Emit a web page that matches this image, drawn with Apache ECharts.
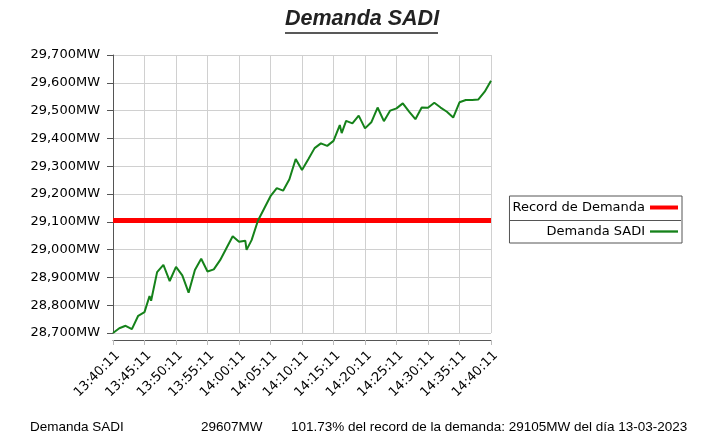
<!DOCTYPE html>
<html>
<head>
<meta charset="utf-8">
<title>Demanda SADI</title>
<script src="https://cdn.jsdelivr.net/npm/echarts@6/dist/echarts.min.js"></script>
<style>
    html, body { margin: 0; padding: 0; background: #fff; }
    #chart { width: 705px; height: 439px; }
</style>
</head>
<body>
<div id="chart"></div>
<script>
// minutos desde las 13:40:11
var sampleMinutes = [0, 1, 2, 3, 4, 5, 5.8, 6.05, 7, 8, 9, 10, 11, 12, 13, 14, 15, 16, 17, 18,
    19, 20, 21, 21.2, 22, 23, 24, 25, 26, 27, 28, 29, 30, 31, 32, 33, 34, 35, 36, 36.3,
    37, 38, 39, 40, 41, 42, 43, 44, 45, 46, 47, 48, 49, 50, 51, 52, 53, 54, 55, 56,
    57, 58, 59, 60];
var demandValues = [28700, 28717, 28726, 28714, 28762, 28775, 28833, 28816, 28919, 28945, 28887, 28938, 28907, 28845, 28927, 28967, 28921, 28929, 28962, 29005,
    29048, 29028, 29032, 28999, 29034, 29104, 29148, 29192, 29221, 29212, 29253, 29326, 29286, 29325, 29365, 29382, 29373, 29391, 29448, 29419,
    29463, 29454, 29482, 29436, 29458, 29511, 29462, 29500, 29508, 29526, 29496, 29469, 29511, 29510, 29528, 29511, 29496, 29475, 29530, 29538,
    29538, 29540, 29568, 29607];
var recordValue = 29105;
var xTickLabels = ["13:40:11", "13:45:11", "13:50:11", "13:55:11", "14:00:11", "14:05:11", "14:10:11",
    "14:15:11", "14:20:11", "14:25:11", "14:30:11", "14:35:11", "14:40:11"];
var footerTexts = ["Demanda SADI", "29607MW", "101.73% del record de la demanda: 29105MW del día 13-03-2023"];

var axisFont = "DejaVu Sans";
var plainFont = "Liberation Sans";

var myChart = echarts.init(document.getElementById("chart"));

var demandData = sampleMinutes.map(function (m, i) { return [m, demandValues[i]]; });
var recordData = [[sampleMinutes[0], recordValue], [sampleMinutes[sampleMinutes.length - 1], recordValue]];

myChart.setOption({
    animation: false,
    backgroundColor: "#fff",
    title: {
        text: "Demanda SADI",
        left: 285,
        top: 8,
        padding: 0,
        textStyle: {
            fontFamily: plainFont,
            fontSize: 21.5,
            fontWeight: "bold",
            fontStyle: "italic",
            color: "#222"
        }
    },
    legend: {
        orient: "vertical",
        right: 23,
        top: 196,
        align: "right",
        padding: [5, 4, 5, 3],
        itemGap: 11,
        itemWidth: 28,
        itemHeight: 14,
        borderColor: "#555",
        borderWidth: 1,
        borderRadius: 0,
        data: [
            { name: "Record de Demanda", icon: "path://M0,0L28,0L28,4L0,4Z" },
            { name: "Demanda SADI", icon: "path://M0,0L24,0L24,2L0,2Z" }
        ],
        textStyle: {
            fontFamily: axisFont,
            fontSize: 13,
            color: "#000",
            width: 131,
            align: "right"
        }
    },
    grid: {
        left: 113,
        right: 214,
        top: 55,
        bottom: 106,
        containLabel: false
    },
    xAxis: {
        type: "value",
        min: 0,
        max: 60,
        interval: 5,
        offset: 7,
        axisLine: { lineStyle: { color: "#555", width: 1 } },
        axisTick: { show: true, length: 5, lineStyle: { color: "#bbb" } },
        splitLine: { show: true, lineStyle: { color: "#d0d0d0", width: 1 } },
        axisLabel: {
            rotate: 45,
            margin: 9,
            verticalAlign: "top",
            fontFamily: axisFont,
            fontSize: 13,
            color: "#000",
            formatter: function (v) { return xTickLabels[Math.round(v / 5)] || ""; }
        }
    },
    yAxis: {
        type: "value",
        min: 28700,
        max: 29700,
        interval: 100,
        offset: 6,
        axisLine: { show: true, lineStyle: { color: "#555", width: 1 } },
        axisTick: { show: true, length: 6, lineStyle: { color: "#555" } },
        splitLine: { show: true, lineStyle: { color: "#d0d0d0", width: 1 } },
        axisLabel: {
            margin: 7,
            fontFamily: axisFont,
            fontSize: 13,
            color: "#000",
            formatter: function (v) { return v.toLocaleString("en-US") + "MW"; }
        }
    },
    series: [
        {
            name: "Record de Demanda",
            type: "line",
            data: recordData,
            symbol: "none",
            color: "#f00",
            lineStyle: { color: "#f00", width: 5 },
            z: 2
        },
        {
            name: "Demanda SADI",
            type: "line",
            data: demandData,
            symbol: "none",
            color: "#15821a",
            lineStyle: { color: "#15821a", width: 2 },
            z: 3
        }
    ],
    graphic: [
        // subrayado del titulo
        { type: "line", shape: { x1: 285, y1: 33, x2: 438, y2: 33 }, style: { stroke: "#222", lineWidth: 1.5 } },
        // separador de la leyenda
        { type: "line", shape: { x1: 510, y1: 220.5, x2: 681, y2: 220.5 }, style: { stroke: "#555", lineWidth: 1 } },
        { type: "text", left: 30, top: 420, style: { text: footerTexts[0], font: "13.5px " + plainFont, fill: "#000" } },
        { type: "text", left: 201, top: 420, style: { text: footerTexts[1], font: "13.5px " + plainFont, fill: "#000" } },
        { type: "text", left: 291, top: 420, style: { text: footerTexts[2], font: "13.5px " + plainFont, fill: "#000" } }
    ]
});
</script>
</body>
</html>
